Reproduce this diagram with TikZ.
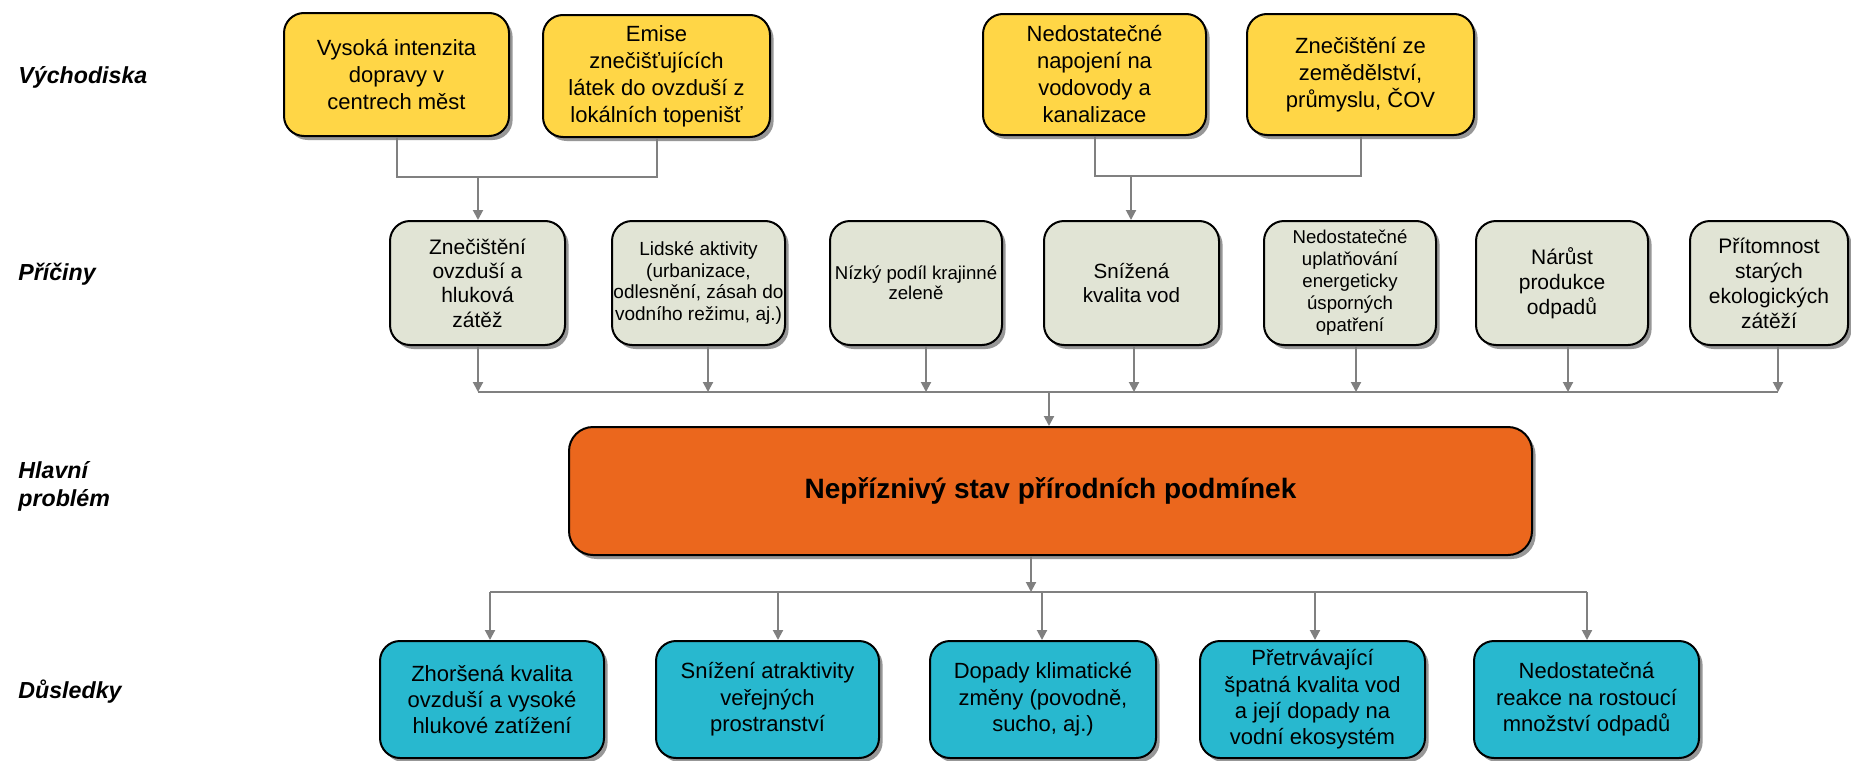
\documentclass[tikz,border=0pt]{standalone}
\usepackage{fontspec}
\setmainfont{Liberation Sans}
\usetikzlibrary{arrows.meta,shadows}
\definecolor{ylw}{HTML}{FFD646}
\definecolor{grn}{HTML}{E1E4D5}
\definecolor{org}{HTML}{EB671D}
\definecolor{teal}{HTML}{28B8CF}
\definecolor{lgray}{HTML}{808080}
\begin{document}
\begin{tikzpicture}[x=0.5pt,y=-0.5pt,
  boxbase/.style={draw=black, line width=1pt, rounded corners=10pt, align=center, inner sep=0pt,
    drop shadow={shadow xshift=1.8pt, shadow yshift=-2pt, fill=black!45, opacity=0.9}},
  ybox/.style={boxbase, fill=ylw, font=\fontsize{11}{13.5}\selectfont},
  gbox/.style={boxbase, fill=grn, minimum height=62pt},
  obox/.style={boxbase, fill=org, rounded corners=12pt, font=\bfseries\fontsize{14}{17}\selectfont},
  tbox/.style={boxbase, fill=teal, minimum height=58.5pt, font=\fontsize{11}{13.2}\selectfont},
  lab/.style={anchor=west, align=left, inner sep=0pt, font=\bfseries\itshape\fontsize{11.6}{14}\selectfont},
  conn/.style={draw=lgray, line width=1pt},
  arr/.style={conn, -{Triangle[length=5pt,width=5pt]}, fill=lgray}]
\fill[white] (0,0) rectangle (1851,760);
\useasboundingbox (0,0) rectangle (1851,760);

% row labels
\node[lab] (l1) at (18,77) {Východiska};
\node[lab] (l2) at (18,274) {Příčiny};
\node[lab] (l3) at (18,486) {Hlavní\\problém};
\node[lab] (l4) at (18,692) {Důsledky};

% row 1
\node[ybox, minimum width=112.5pt, minimum height=61.5pt] (v1) at (396.5,74.5) {Vysoká intenzita\\dopravy v\\centrech měst};
\node[ybox, minimum width=113.5pt, minimum height=61pt] (v2) at (656.5,76) {Emise\\znečišťujících\\látek do ovzduší z\\lokálních topenišť};
\node[ybox, minimum width=111.5pt, minimum height=60.5pt] (v3) at (1094.5,74.5) {Nedostatečné\\napojení na\\vodovody a\\kanalizace};
\node[ybox, minimum width=113.5pt, minimum height=60.5pt] (v4) at (1360.5,74.5) {Znečištění ze\\zemědělství,\\průmyslu, ČOV};

% row 2
\node[gbox, minimum width=87.5pt, font=\fontsize{10.5}{12.2}\selectfont] (p1) at (477.5,283) {Znečištění\\ovzduší a\\hluková\\zátěž};
\node[gbox, minimum width=86.5pt, font=\fontsize{9.5}{10.9}\selectfont] (p2) at (698.5,283) {Lidské aktivity\\(urbanizace,\\odlesnění, zásah do\\vodního režimu, aj.)};
\node[gbox, minimum width=86pt, font=\fontsize{9.3}{10.2}\selectfont] (p3) at (916,283) {Nízký podíl krajinné\\zeleně};
\node[gbox, minimum width=87.5pt, font=\fontsize{10.3}{11.8}\selectfont] (p4) at (1131.5,283) {Snížená\\kvalita vod};
\node[gbox, minimum width=86pt, font=\fontsize{9.3}{11}\selectfont] (p5) at (1350,283) {Nedostatečné\\uplatňování\\energeticky\\úsporných\\opatření};
\node[gbox, minimum width=86pt, font=\fontsize{10.5}{12.5}\selectfont] (p6) at (1562,283) {Nárůst\\produkce\\odpadů};
\node[gbox, minimum width=79pt, font=\fontsize{10.5}{12.5}\selectfont] (p7) at (1769,283) {Přítomnost\\starých\\ekologických\\zátěží};

% main problem
\node[obox, minimum width=481.5pt, minimum height=64pt] (m) at (1050.5,491) {Nepříznivý stav přírodních podmínek};

% row 4
\node[tbox, minimum width=112pt] (c1) at (492,699.5) {Zhoršená kvalita\\ovzduší a vysoké\\hlukové zatížení};
\node[tbox, minimum width=111.5pt] (c2) at (767.5,699.5) {Snížení atraktivity\\veřejných\\prostranství};
\node[tbox, minimum width=113pt] (c3) at (1043,699.5) {Dopady klimatické\\změny (povodně,\\sucho, aj.)};
\node[tbox, minimum width=112.5pt] (c4) at (1312.5,699.5) {Přetrvávající\\špatná kvalita vod\\a její dopady na\\vodní ekosystém};
\node[tbox, minimum width=112.5pt] (c5) at (1586.5,699.5) {Nedostatečná\\reakce na rostoucí\\množství odpadů};

% row 1 -> row 2
\coordinate (j1) at (478,177);
\coordinate (j2) at (1131,176);
\draw[conn] (v1.south) |- (j1) -| (v2.south);
\draw[arr] (j1) -- (j1 |- p1.north);
\draw[conn] (v3.south) |- (j2) -| (v4.south);
\draw[arr] (j2) -- (j2 |- p4.north);

% row 2 -> main
\coordinate (b1) at (478,392);
\coordinate (b2) at (708,392);
\coordinate (b3) at (926,392);
\coordinate (b4) at (1134,392);
\coordinate (b5) at (1356,392);
\coordinate (b6) at (1568,392);
\coordinate (b7) at (1778,392);
\coordinate (bm) at (1049,392);
\draw[conn] (b1) -- (b7);
\foreach \i in {1,...,7} {\draw[arr] (b\i |- p\i.south) -- (b\i);}
\draw[arr] (bm) -- (bm |- m.north);

% main -> row 4
\coordinate (d0) at (1031,592);
\coordinate (d1) at (490,592);
\coordinate (d2) at (778,592);
\coordinate (d3) at (1042,592);
\coordinate (d4) at (1315,592);
\coordinate (d5) at (1587,592);
\draw[arr] (m.south -| d0) -- (d0);
\draw[conn] (d1) -- (d5);
\foreach \i in {1,...,5} {\draw[arr] (d\i) -- (d\i |- c\i.north);}
\end{tikzpicture}
\end{document}
